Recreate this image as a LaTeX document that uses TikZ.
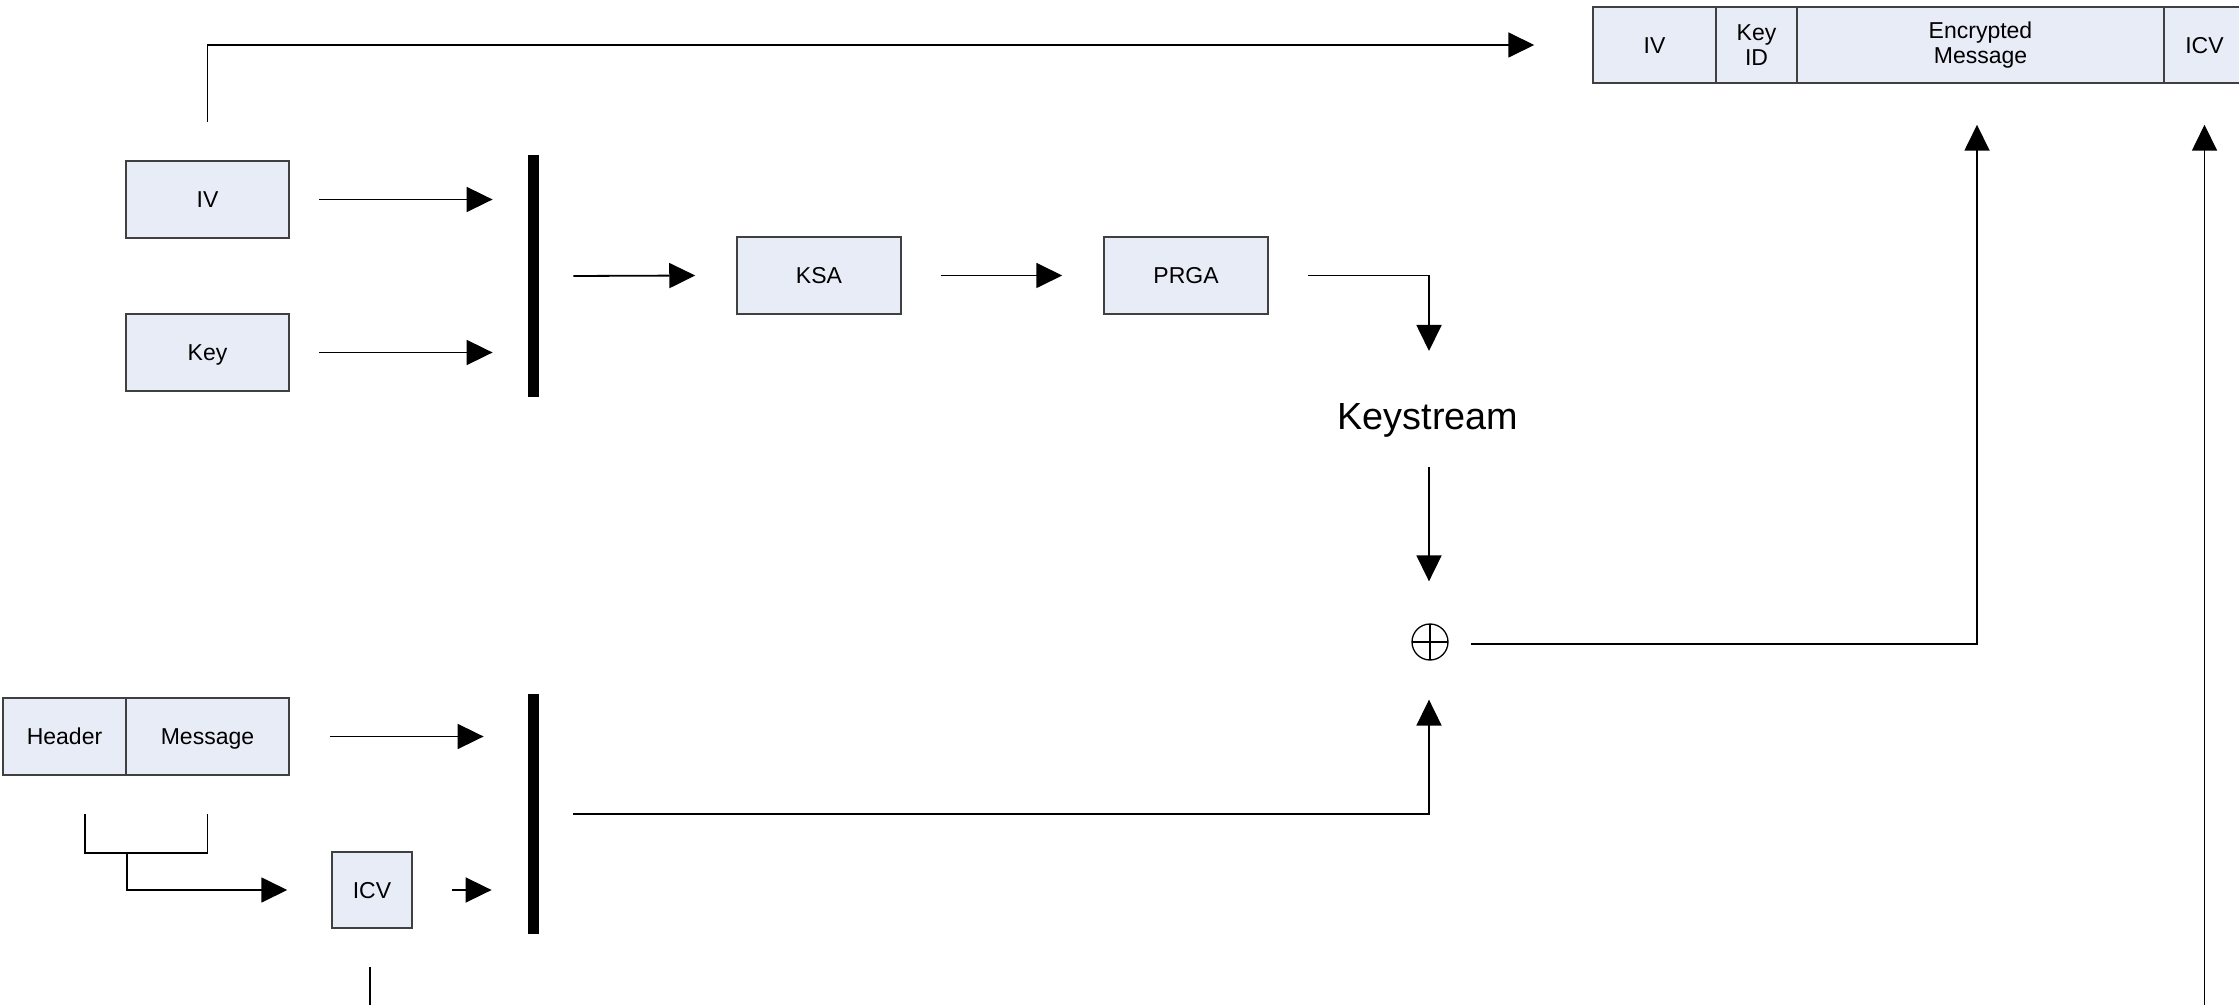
\documentclass[tikz,border=0pt]{standalone}
\usepackage{fontspec}
\setmainfont{Liberation Sans}
\usetikzlibrary{arrows.meta,calc}

\tikzset{
  cell/.style={draw=black!75, fill=boxfill, line width=0.75pt, inner sep=0pt,
               font=\fontsize{11.5}{12.6}\selectfont, align=center},
  box/.style={cell, text height=8.2pt, text depth=0pt},
  bar/.style={fill=black, draw=none, inner sep=0pt, minimum width=5.5pt},
  conn/.style={line width=0.9pt, draw=black},
  arr/.style={conn, -{Triangle[length=13pt,width=12.5pt]}},
  xorsym/.style={circle, draw, line width=0.65pt, minimum size=18pt, inner sep=0pt,
    path picture={
      \draw[line width=0.65pt] (path picture bounding box.north) -- (path picture bounding box.south)
                               (path picture bounding box.west) -- (path picture bounding box.east);
    }},
}
\definecolor{boxfill}{RGB}{232,236,247}

\begin{document}
\begin{tikzpicture}[x=0.5pt, y=-0.5pt]
  \useasboundingbox (0,0) rectangle (2239,1005);
  \clip (0,0) rectangle (2239,1005);

  % key scheduling inputs
  \node[box, minimum width=81.5pt, minimum height=38.5pt] (iv)  at (207.5,199.5) {IV};
  \node[box, minimum width=81.5pt, minimum height=38.5pt] (key) at (207.5,352.5) {Key};
  \node[bar, minimum height=121pt] (bar1) at (533.5,276) {};

  % RC4
  \node[box, minimum width=82pt, minimum height=38.5pt] (ksa)  at (819,275.5)  {KSA};
  \node[box, minimum width=82pt, minimum height=38.5pt] (prga) at (1186,275.5) {PRGA};
  \node[font=\fontsize{18.9}{20}\selectfont, anchor=base, inner sep=0pt] (ks) at (1428,430) {Keystream};
  \node[xorsym] (xor) at (1430,642) {};

  % plaintext side
  \node[box, minimum width=61.5pt, minimum height=38.5pt] (hdr) at (64.5,736.5)  {Header};
  \node[box, minimum width=81.5pt, minimum height=38.5pt] (msg) at (207.5,736.5) {Message};
  \node[box, minimum width=40pt, minimum height=38pt] (icv) at (372,890) {ICV};
  \node[bar, minimum height=120pt] (bar2) at (533.5,814) {};

  % transmitted frame
  \node[box, minimum width=61.5pt, minimum height=38pt] (fiv)  at (1654.5,45) {IV};
  \node[cell, minimum width=40.5pt, minimum height=38pt] (fkid) at (1756.5,45) {Key\\ID};
  \node[cell, minimum width=183.5pt, minimum height=38pt] (fenc) at (1980.5,45) {Encrypted\\Message};
  \node[box, minimum width=40.5pt, minimum height=38pt] (ficv) at (2204.5,45) {ICV};

  % IV copied into the frame header
  \draw[arr] ($(iv.north)+(0,-38)$) |- ($(fiv.west)+(-58,0)$);

  % IV || Key -> KSA -> PRGA -> keystream
  \draw[arr] ($(iv.east)+(29,0)$)  -- ($(iv.east -| bar1.west)+(-35,0)$);
  \draw[arr] ($(key.east)+(29,0)$) -- ($(key.east -| bar1.west)+(-35,0)$);
  \draw[arr] ($(bar1.east)+(34,0)$) -- ($(ksa.west)+(-41,0)$);
  \draw[arr] ($(ksa.east)+(39,0)$)  -- ($(prga.west)+(-41,0)$);
  \draw[arr] ($(prga.east)+(39,0)$) -| ($(ks.base)+(1,-79)$);
  \draw[arr] ($(ks.base)+(1,37)$) -- ($(xor.north)+(-1,-42)$);

  % Message || ICV -> XOR
  \draw[arr] ($(msg.east)+(40,0)$) -- ($(msg.east -| bar2.west)+(-44,0)$);
  \draw[conn] ($(hdr.south)+(20.5,38)$) |- ($(msg.south)+(0,77)$) -- ($(msg.south)+(0,38)$);
  \draw[arr] ($(hdr.south east)+(0,77)$) |- ($(icv.west)+(-44,0)$);
  \draw[arr] ($(icv.east)+(39,0)$) -- ($(icv.east -| bar2.west)+(-36,0)$);
  \draw[arr] ($(bar2.east)+(34,0)$) -| ($(xor.south)+(-1,39)$);

  % ciphertext and ICV into the frame
  \draw[arr] ($(xor.east)+(22,2)$) -| ($(fenc.south)+(-3.5,41)$);
  \draw[arr] ($(icv.south)+(-2,38)$) -- (370,1060) -| ($(ficv.south)+(0,41)$);
\end{tikzpicture}
\end{document}
